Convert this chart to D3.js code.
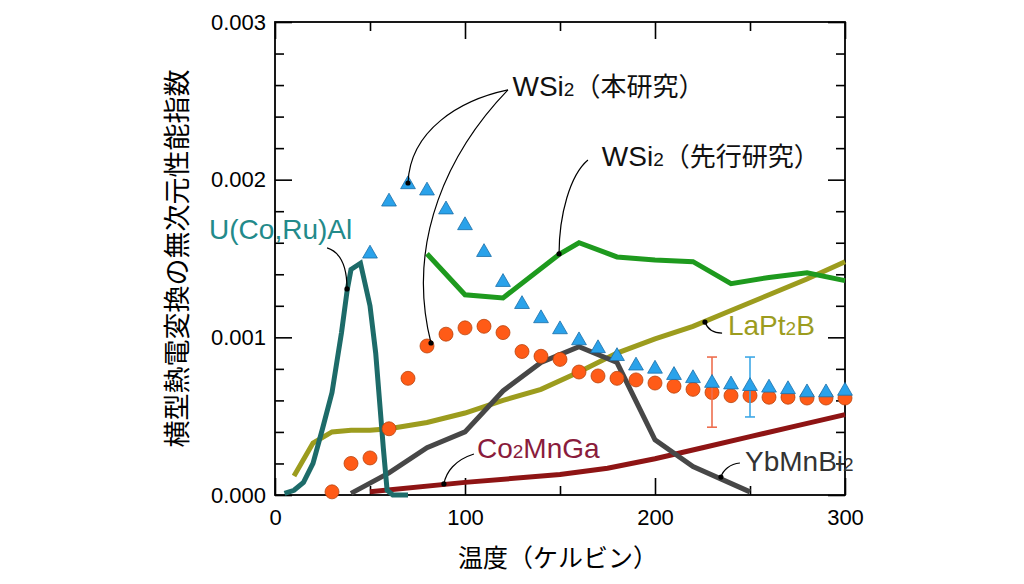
<!DOCTYPE html>
<html>
<head>
<meta charset="utf-8">
<script src="https://cdn.jsdelivr.net/npm/d3@7"></script>
<style>
  body { margin: 0; background: #fff; }
  svg { display: block; }
  text { font-family: "Liberation Sans", Arial, "Noto Sans CJK JP", sans-serif; }
</style>
</head>
<body>
<svg width="1024" height="584"></svg>
<script>
// --- data (温度 K, 無次元性能指数) ---
var triT = [50, 60, 70, 80, 90, 100, 110, 120, 130, 140, 150, 160, 170, 180, 190, 200, 210, 220, 230, 240, 250, 260, 270, 280, 290, 300];
var triV = [0.00153, 0.00186, 0.00197, 0.00193, 0.00181, 0.00171, 0.00154, 0.00135, 0.00121, 0.00112, 0.00105, 0.00098, 0.00093, 0.00088, 0.00082, 0.00080, 0.00076, 0.00074, 0.00071, 0.00070, 0.00069, 0.00068, 0.00067, 0.00065, 0.00065, 0.00066];

var dotT = [30, 40, 50, 60, 70, 80, 90, 100, 110, 120, 130, 140, 150, 160, 170, 180, 190, 200, 210, 220, 230, 240, 250, 260, 270, 280, 290, 300];
var dotV = [0.00002, 0.00020, 0.000235, 0.00042, 0.00074, 0.000945, 0.00102, 0.00106, 0.00107, 0.00103, 0.00091, 0.00088, 0.00086, 0.00078, 0.000755, 0.00074, 0.00073, 0.00071, 0.00069, 0.00067, 0.00065, 0.00063, 0.00063, 0.00062, 0.00062, 0.000615, 0.000615, 0.000615];

// error bars: [T, low, high]
var dotErr = [[230, 0.00043, 0.000875]];
var triErr = [[250, 0.000495, 0.000875]];

var uCoRuAl = [[5, 0.00001], [10, 0.00003], [15, 0.00008], [20, 0.0002], [25, 0.00042], [30, 0.00065], [35, 0.00103], [38, 0.0013], [40, 0.00143], [45, 0.00147], [50, 0.0012], [53, 0.0009], [55, 0.0006], [57, 0.0003], [59, 0.00003], [62, 0], [70, 0]];
var laPt2B = [[10, 0.00012], [20, 0.00033], [30, 0.0004], [40, 0.00041], [50, 0.00041], [60, 0.00042], [80, 0.00046], [100, 0.00052], [120, 0.0006], [140, 0.00067], [160, 0.00078], [180, 0.0009], [200, 0.00099], [220, 0.00107], [240, 0.00117], [260, 0.00127], [280, 0.00137], [300, 0.00148]];
var wsi2Prev = [[80, 0.00153], [100, 0.00127], [120, 0.00125], [150, 0.00153], [160, 0.0016], [180, 0.00151], [200, 0.00149], [220, 0.00148], [240, 0.00134], [260, 0.00138], [280, 0.00141], [300, 0.00136]];
var ybMnBi2 = [[40, 0.00001], [60, 0.00014], [80, 0.0003], [100, 0.0004], [120, 0.00066], [140, 0.00084], [160, 0.00094], [180, 0.00084], [200, 0.00035], [220, 0.00018], [250, 0.00002]];
var co2MnGa = [[50, 0.00002], [100, 0.00008], [150, 0.00013], [175, 0.00017], [200, 0.00023], [225, 0.0003], [250, 0.00037], [275, 0.00044], [300, 0.00051]];

var xTicks = [0, 100, 200, 300];
var xMinor = [50, 150, 250];
var yTicks = [0, 0.001, 0.002, 0.003];

// --- layout ---
var svg = d3.select('svg');
var pLeft = 275, pRight = 845, pTop = 22, pBottom = 495;

var x = d3.scaleLinear().domain([0, 300]).range([pLeft, pRight]);
var y = d3.scaleLinear().domain([0, 0.003]).range([pBottom, pTop]);

var yMinor = d3.range(1, 15).map(function(i) { return i * 0.0002; })
  .filter(function(v) { return Math.abs(v - 0.001) > 1e-9 && Math.abs(v - 0.002) > 1e-9; });

// 軸 (内向き目盛り)
function addAxis(axis, tx, ty) {
  var g = svg.append('g')
    .attr('transform', 'translate(' + tx + ',' + ty + ')')
    .call(axis);
  g.select('.domain').remove();
  g.selectAll('line').attr('stroke', '#000').attr('stroke-width', 1.6);
  g.selectAll('text').attr('font-size', 22).attr('fill', '#000');
  return g;
}

addAxis(d3.axisBottom(x).tickValues(xTicks).tickSize(-17).tickPadding(14).tickFormat(d3.format('d')), 0, pBottom);
addAxis(d3.axisBottom(x).tickValues(xMinor).tickSize(-9).tickFormat(''), 0, pBottom);
addAxis(d3.axisTop(x).tickValues(xTicks).tickSize(-17).tickFormat(''), 0, pTop);
addAxis(d3.axisTop(x).tickValues(xMinor).tickSize(-9).tickFormat(''), 0, pTop);
addAxis(d3.axisLeft(y).tickValues(yTicks).tickSize(-17).tickPadding(9).tickFormat(d3.format('.3f')), pLeft, 0);
addAxis(d3.axisLeft(y).tickValues(yMinor).tickSize(-9).tickFormat(''), pLeft, 0);
addAxis(d3.axisRight(y).tickValues(yTicks).tickSize(-17).tickFormat(''), pRight, 0);
addAxis(d3.axisRight(y).tickValues(yMinor).tickSize(-9).tickFormat(''), pRight, 0);

svg.append('rect')
  .attr('x', pLeft).attr('y', pTop)
  .attr('width', pRight - pLeft).attr('height', pBottom - pTop)
  .attr('fill', 'none').attr('stroke', '#000').attr('stroke-width', 1.8);

// 軸タイトル
svg.append('text')
  .attr('transform', 'translate(178,' + ((pTop + pBottom) / 2) + ') rotate(-90)')
  .attr('text-anchor', 'middle')
  .attr('dominant-baseline', 'central')
  .attr('font-size', 27)
  .text('横型熱電変換の無次元性能指数');

svg.append('text')
  .attr('x', (pLeft + pRight) / 2 - 2).attr('y', 558)
  .attr('text-anchor', 'middle')
  .attr('dominant-baseline', 'central')
  .attr('font-size', 25)
  .text('温度（ケルビン）');

// --- 曲線 ---
var line = d3.line()
  .x(function(d) { return x(d[0]); })
  .y(function(d) { return y(d[1]); });

var plot = svg.append('g');

var series = [
  {data: laPt2B, color: '#9c9c1e'},
  {data: co2MnGa, color: '#8e1414'},
  {data: ybMnBi2, color: '#474747'},
  {data: wsi2Prev, color: '#1e9a1e'},
  {data: uCoRuAl, color: '#1d6b69'}
];

series.forEach(function(s) {
  plot.append('path')
    .datum(s.data)
    .attr('d', line)
    .attr('fill', 'none')
    .attr('stroke', s.color)
    .attr('stroke-width', 5);
});

// 本研究: 丸
plot.selectAll('.dot')
  .data(dotT.map(function(t, i) { return [t, dotV[i]]; }))
  .enter().append('circle')
  .attr('class', 'dot')
  .attr('cx', function(d) { return x(d[0]); })
  .attr('cy', function(d) { return y(d[1]); })
  .attr('r', 7)
  .attr('fill', '#ff5b17')
  .attr('stroke', '#b8450f')
  .attr('stroke-width', 0.8);

// エラーバー
function errBars(data, color) {
  var g = plot.append('g').attr('stroke', color).attr('stroke-width', 1.6);
  data.forEach(function(d) {
    var cx = x(d[0]);
    g.append('line').attr('x1', cx).attr('x2', cx).attr('y1', y(d[1])).attr('y2', y(d[2]));
    g.append('line').attr('x1', cx - 5).attr('x2', cx + 5).attr('y1', y(d[1])).attr('y2', y(d[1]));
    g.append('line').attr('x1', cx - 5).attr('x2', cx + 5).attr('y1', y(d[2])).attr('y2', y(d[2]));
  });
}
errBars(dotErr, '#ee6e4e');
errBars(triErr, '#3ea8e6');

// 本研究: 三角
var tri = d3.symbol().type(d3.symbolTriangle).size(95);
plot.selectAll('.tri')
  .data(triT.map(function(t, i) { return [t, triV[i]]; }))
  .enter().append('path')
  .attr('class', 'tri')
  .attr('d', tri)
  .attr('transform', function(d) { return 'translate(' + x(d[0]) + ',' + y(d[1]) + ')'; })
  .attr('fill', '#2aa2ea')
  .attr('stroke', '#1b6ea8')
  .attr('stroke-width', 0.8);

// --- 注釈 (データ座標) ---
var labels = [
  {pos: [125, 0.00257], parts: [['WSi', 28], ['2', 19], ['（本研究）', 26]], color: '#111'},
  {pos: [-34.7, 0.00166], parts: [['U(Co,Ru)Al', 28]], color: '#238a8a'},
  {pos: [172, 0.002125], parts: [['WSi', 28], ['2', 19], ['（先行研究）', 26]], color: '#111'},
  {pos: [238.4, 0.00105], parts: [['LaPt', 28], ['2', 19], ['B', 28]], color: '#9c9c1e'},
  {pos: [106.3, 0.000273], parts: [['Co', 28], ['2', 19], ['MnGa', 28]], color: '#8a1c3c'},
  {pos: [247.4, 0.00019], parts: [['YbMnBi', 28], ['2', 19]], color: '#333'}
];

var leaders = [
  [[122.6, 0.002569], [97.4, 0.002505], [71.1, 0.002315], [70, 0.001979]],
  [[122.6, 0.002569], [92.1, 0.002188], [68.4, 0.001617], [82.1, 0.000964]],
  [[27.4, 0.001567], [34.2, 0.001541], [37.9, 0.001459], [37.9, 0.001307]],
  [[164.7, 0.002125], [155.3, 0.00203], [149.5, 0.001776], [149.5, 0.001529]],
  [[235.3, 0.001027], [230, 0.001027], [227.4, 0.001059], [226.3, 0.001097]],
  [[104.7, 0.00026], [94.7, 0.000222], [90, 0.000146], [88.9, 0.00007]],
  [[244.7, 0.000203], [239.5, 0.000197], [235.8, 0.000159], [234.7, 0.000114]]
];

var ann = svg.append('g');
leaders.forEach(function(p) {
  var pt = p.map(function(d) { return [x(d[0]), y(d[1])]; });
  var path = d3.path();
  path.moveTo(pt[0][0], pt[0][1]);
  path.bezierCurveTo(pt[1][0], pt[1][1], pt[2][0], pt[2][1], pt[3][0], pt[3][1]);
  ann.append('path').attr('d', path.toString())
    .attr('fill', 'none').attr('stroke', '#000').attr('stroke-width', 1.2);
  ann.append('circle').attr('cx', pt[3][0]).attr('cy', pt[3][1]).attr('r', 2.6).attr('fill', '#000');
});

labels.forEach(function(l) {
  var t = ann.append('text')
    .attr('x', x(l.pos[0])).attr('y', y(l.pos[1]))
    .attr('dy', '0.36em')
    .attr('fill', l.color);
  l.parts.forEach(function(p) {
    t.append('tspan').attr('font-size', p[1]).text(p[0]);
  });
});
</script>
</body>
</html>
